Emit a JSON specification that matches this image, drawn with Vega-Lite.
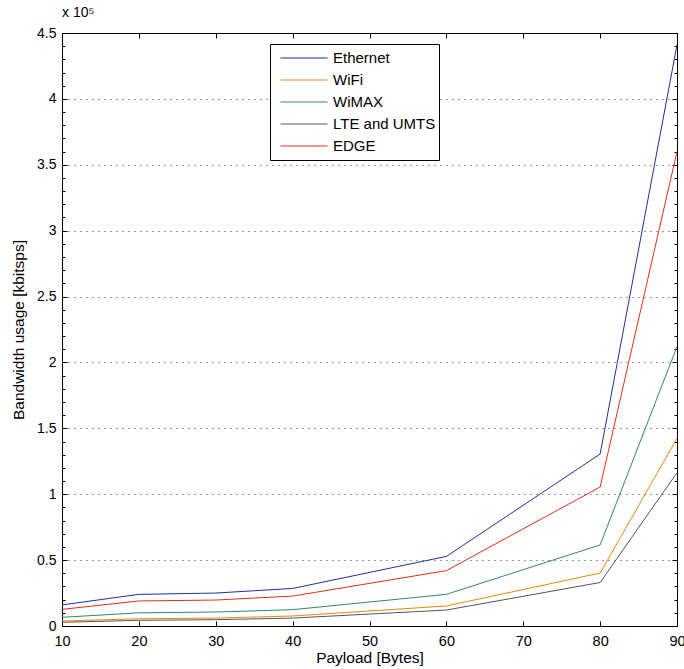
{
  "$schema": "https://vega.github.io/schema/vega-lite/v6.json",
  "autosize": {"type": "none"},
  "padding": {"left": 62, "top": 33, "right": 7, "bottom": 43},
  "width": 615,
  "height": 593,
  "background": "white",
  "title": {"text": "x 10⁵", "anchor": "start", "frame": "group", "font": "Liberation Sans", "fontSize": 14, "fontWeight": "normal", "offset": 6, "color": "black"},
  "config": {
    "view": {"stroke": "black", "strokeWidth": 1},
    "font": "Liberation Sans"
  },
  "data": {"values": [
    {"payload": 10, "tech": "Ethernet", "bw": 16000},
    {"payload": 20, "tech": "Ethernet", "bw": 24000},
    {"payload": 30, "tech": "Ethernet", "bw": 25000},
    {"payload": 40, "tech": "Ethernet", "bw": 28500},
    {"payload": 60, "tech": "Ethernet", "bw": 52800},
    {"payload": 80, "tech": "Ethernet", "bw": 130500},
    {"payload": 90, "tech": "Ethernet", "bw": 441000},
    {"payload": 10, "tech": "WiFi", "bw": 3800},
    {"payload": 20, "tech": "WiFi", "bw": 5500},
    {"payload": 30, "tech": "WiFi", "bw": 6000},
    {"payload": 40, "tech": "WiFi", "bw": 7600},
    {"payload": 60, "tech": "WiFi", "bw": 15200},
    {"payload": 80, "tech": "WiFi", "bw": 40200},
    {"payload": 90, "tech": "WiFi", "bw": 142400},
    {"payload": 10, "tech": "WiMAX", "bw": 6600},
    {"payload": 20, "tech": "WiMAX", "bw": 10000},
    {"payload": 30, "tech": "WiMAX", "bw": 10600},
    {"payload": 40, "tech": "WiMAX", "bw": 12400},
    {"payload": 60, "tech": "WiMAX", "bw": 24000},
    {"payload": 80, "tech": "WiMAX", "bw": 61500},
    {"payload": 90, "tech": "WiMAX", "bw": 212000},
    {"payload": 10, "tech": "LTE and UMTS", "bw": 2800},
    {"payload": 20, "tech": "LTE and UMTS", "bw": 4300},
    {"payload": 30, "tech": "LTE and UMTS", "bw": 4800},
    {"payload": 40, "tech": "LTE and UMTS", "bw": 6000},
    {"payload": 60, "tech": "LTE and UMTS", "bw": 12100},
    {"payload": 80, "tech": "LTE and UMTS", "bw": 33000},
    {"payload": 90, "tech": "LTE and UMTS", "bw": 116300},
    {"payload": 10, "tech": "EDGE", "bw": 12600},
    {"payload": 20, "tech": "EDGE", "bw": 19000},
    {"payload": 30, "tech": "EDGE", "bw": 19700},
    {"payload": 40, "tech": "EDGE", "bw": 22700},
    {"payload": 60, "tech": "EDGE", "bw": 42000},
    {"payload": 80, "tech": "EDGE", "bw": 105500},
    {"payload": 90, "tech": "EDGE", "bw": 360000}
  ]},
  "resolve": {"axis": {"x": "independent", "y": "independent"}},
  "layer": [
    {
      "mark": {"type": "line", "strokeWidth": 1, "clip": true},
      "encoding": {
        "x": {
          "field": "payload", "type": "quantitative",
          "scale": {"domain": [10, 90], "nice": false, "zero": false},
          "axis": {
            "orient": "bottom",
            "title": "Payload [Bytes]",
            "titleFont": "Liberation Sans", "titleFontSize": 15.5, "titleFontWeight": "normal", "titleColor": "black",
            "titlePadding": 3,
            "values": [10, 20, 30, 40, 50, 60, 70, 80, 90],
            "grid": false,
            "domain": false,
            "tickSize": -5, "tickColor": "black",
            "labelFont": "Liberation Sans", "labelFontSize": 14.5, "labelColor": "black",
            "labelPadding": 13, "labelFlush": false, "labelOverlap": false
          }
        },
        "y": {
          "field": "bw", "type": "quantitative",
          "scale": {"domain": [0, 450000], "nice": false},
          "axis": {
            "orient": "left",
            "title": "Bandwidth usage [kbitsps]",
            "titleFont": "Liberation Sans", "titleFontSize": 15.5, "titleFontWeight": "normal", "titleColor": "black",
            "titlePadding": 10,
            "values": [0,10000,20000,30000,40000,50000,60000,70000,80000,90000,100000,110000,120000,130000,140000,150000,160000,170000,180000,190000,200000,210000,220000,230000,240000,250000,260000,270000,280000,290000,300000,310000,320000,330000,340000,350000,360000,370000,380000,390000,400000,410000,420000,430000,440000,450000],
            "labelExpr": "datum.value % 50000 === 0 ? '' + (datum.value / 100000) : ''",
            "grid": true,
            "gridColor": "#333333",
            "gridDash": [1, 5],
            "gridOpacity": {"condition": {"test": "datum.value % 50000 === 0 && datum.value > 0 && datum.value < 450000", "value": 1}, "value": 0},
            "domain": false,
            "tickColor": "black",
            "tickSize": {"condition": {"test": "datum.value % 50000 === 0", "value": -5}, "value": -3},
            "labelFont": "Liberation Sans", "labelFontSize": 14, "labelColor": "black",
            "labelPadding": 11, "labelOverlap": false, "labelFlush": false
          }
        },
        "color": {
          "field": "tech", "type": "nominal",
          "scale": {
            "domain": ["Ethernet", "WiFi", "WiMAX", "LTE and UMTS", "EDGE"],
            "range": ["#1f2f99", "#e8880a", "#2e8a5e", "#555555", "#e0301a"]
          },
          "legend": {
            "title": null,
            "orient": "none",
            "legendX": 208,
            "legendY": 11,
            "symbolType": "stroke",
            "symbolSize": 2209,
            "symbolStrokeWidth": 1,
            "symbolOffset": 7,
            "clipHeight": 22,
            "rowPadding": 0,
            "padding": 3,
            "labelOffset": 5,
            "labelFont": "Liberation Sans",
            "labelFontSize": 15,
            "labelColor": "black",
            "fillColor": "white",
            "strokeColor": "black"
          }
        }
      }
    },
    {
      "mark": {"type": "line", "opacity": 0, "clip": true},
      "encoding": {
        "x": {
          "field": "payload", "type": "quantitative",
          "scale": {"domain": [10, 90], "nice": false, "zero": false},
          "axis": {
            "orient": "top", "title": null, "labels": false, "grid": false, "domain": false,
            "values": [10, 20, 30, 40, 50, 60, 70, 80, 90],
            "tickSize": -5, "tickColor": "black"
          }
        },
        "y": {
          "field": "bw", "type": "quantitative",
          "scale": {"domain": [0, 450000], "nice": false},
          "axis": {
            "orient": "right", "title": null, "labels": false, "grid": false, "domain": false,
            "values": [0,10000,20000,30000,40000,50000,60000,70000,80000,90000,100000,110000,120000,130000,140000,150000,160000,170000,180000,190000,200000,210000,220000,230000,240000,250000,260000,270000,280000,290000,300000,310000,320000,330000,340000,350000,360000,370000,380000,390000,400000,410000,420000,430000,440000,450000],
            "tickColor": "black",
            "tickSize": {"condition": {"test": "datum.value % 50000 === 0", "value": -5}, "value": -3}
          }
        },
        "detail": {"field": "tech", "type": "nominal"}
      }
    }
  ]
}
